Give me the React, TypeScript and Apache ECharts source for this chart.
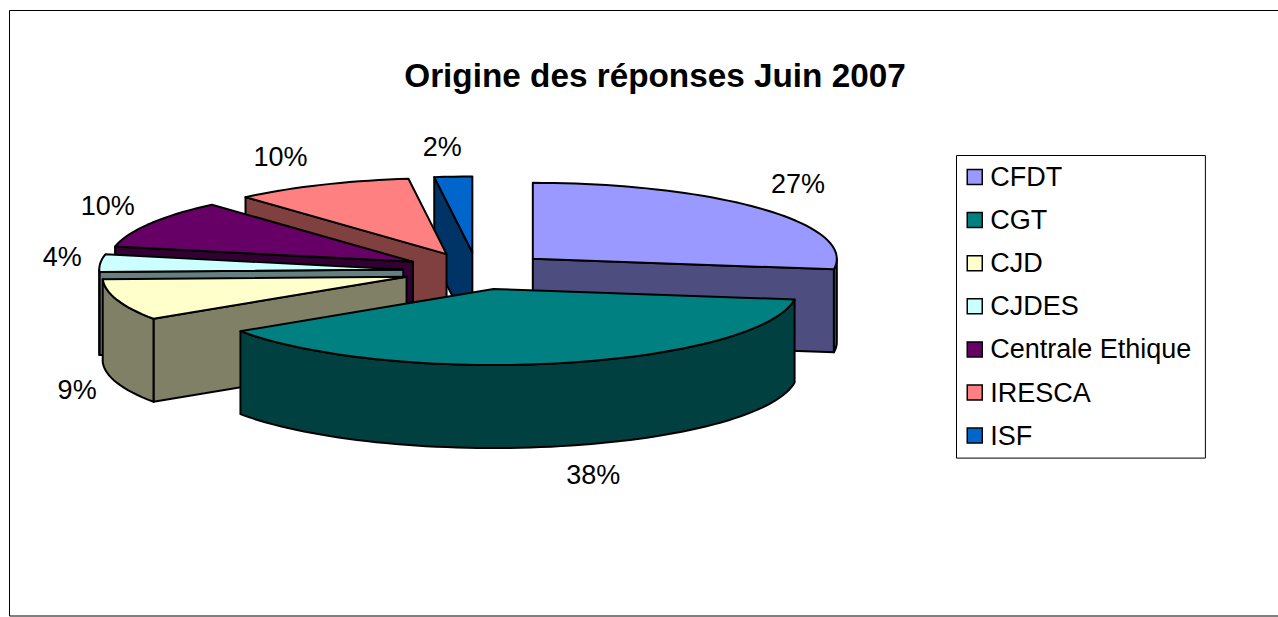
import React, { useEffect, useRef } from "react";
import * as echarts from "echarts";

const categories = ["CFDT", "CGT", "CJD", "CJDES", "Centrale Ethique", "IRESCA", "ISF"];
const shares = [27.2, 38.45, 8.8, 3.75, 10.3, 9.5, 2.0];
const topColors = ["#9999FF", "#008080", "#FFFFCC", "#CCFFFF", "#660066", "#FF8080", "#0066CC"];
const wallColors = ["#4D4D80", "#004040", "#808066", "#668080", "#330033", "#804040", "#003366"];
const paintOrder = [6, 5, 4, 3, 2, 0, 1];
const labelOffsets = [
  [36, -25],
  [32, 112],
  [-40, 90],
  [-38, -6],
  [-42, -18],
  [-41, -28],
  [-11, -29.5],
];

const CX = 477;
const CY = 271;
const RX = 304;
const RY = 76;
const DEPTH = 83;
const EXPLODE = 74;
const STROKE = 2;
const FONT = '"Liberation Sans", Arial, sans-serif';

const total = shares.reduce((a, b) => a + b, 0);
const rad = (d: number) => (d * Math.PI) / 180;

function arcPoints(ax: number, ay: number, from: number, to: number, dy = 0) {
  const pts: number[][] = [];
  const steps = Math.max(2, Math.ceil(Math.abs(to - from) / 2));
  for (let i = 0; i <= steps; i++) {
    const t = rad(from + ((to - from) * i) / steps);
    pts.push([ax + RX * Math.sin(t), ay - RY * Math.cos(t) + dy]);
  }
  return pts;
}

function sliceRenderer(index: number) {
  return () => {
    const before = shares.slice(0, index).reduce((a, b) => a + b, 0);
    const a = (before / total) * 360;
    const b = ((before + shares[index]) / total) * 360;
    const m = rad((a + b) / 2);
    const ax = CX + EXPLODE * Math.sin(m);
    const ay = CY - (EXPLODE * RY * Math.cos(m)) / RX;
    const children: any[] = [];
    const wallStyle = { fill: wallColors[index], stroke: "#000", lineWidth: STROKE, lineJoin: "round" };

    const face = (angle: number) => {
      const [p] = arcPoints(ax, ay, angle, angle);
      children.push({
        type: "polygon",
        shape: { points: [[ax, ay], p, [p[0], p[1] + DEPTH], [ax, ay + DEPTH]] },
        style: wallStyle,
      });
    };
    if (Math.sin(rad(a)) < -1e-6) face(a);
    if (Math.sin(rad(b)) > 1e-6) face(b);

    const wallFrom = Math.max(a, 90);
    const wallTo = Math.min(b, 270);
    if (wallTo > wallFrom) {
      const upper = arcPoints(ax, ay, wallFrom, wallTo);
      const lower = arcPoints(ax, ay, wallTo, wallFrom, DEPTH);
      children.push({
        type: "polygon",
        shape: { points: [...upper, ...lower] },
        style: wallStyle,
      });
    }

    children.push({
      type: "polygon",
      shape: { points: [[ax, ay], ...arcPoints(ax, ay, a, b)] },
      style: { fill: topColors[index], stroke: "#000", lineWidth: STROKE, lineJoin: "round" },
    });

    const [mid] = arcPoints(ax, ay, (a + b) / 2, (a + b) / 2);
    children.push({
      type: "text",
      style: {
        text: `${Math.round((shares[index] / total) * 100)}%`,
        x: mid[0] + labelOffsets[index][0],
        y: mid[1] + labelOffsets[index][1],
        fill: "#000",
        font: `27px ${FONT}`,
        align: "center",
        verticalAlign: "middle",
      },
    });
    return { type: "group", children };
  };
}

export default function App() {
  const ref = useRef<HTMLDivElement>(null);
  useEffect(() => {
    const chart = echarts.init(ref.current!, undefined, { renderer: "svg" });
    chart.setOption({
      animation: false,
      backgroundColor: "#fff",
      title: {
        text: "Origine des réponses Juin 2007",
        left: 655,
        top: 59,
        textAlign: "center",
        padding: 0,
        textStyle: { fontFamily: FONT, fontWeight: "bold", fontSize: 33.3, color: "#000" },
      },
      legend: {
        orient: "vertical",
        left: 956.5,
        top: 155.5,
        padding: [8, 14, 9, 10],
        data: categories,
        icon: "rect",
        itemWidth: 15,
        itemHeight: 15,
        itemGap: 16.1,
        selectedMode: false,
        backgroundColor: "#fff",
        borderColor: "#000",
        borderWidth: 1,
        itemStyle: { borderColor: "#000", borderWidth: 1.5 },
        textStyle: { fontFamily: FONT, fontSize: 27, color: "#000", padding: [0, 0, 0, 3], lineHeight: 25 },
      },
      graphic: [
        {
          type: "polyline",
          shape: { points: [[1278, 10.5], [9.5, 10.5], [9.5, 616], [1278, 616]] },
          style: { fill: "none", stroke: "#000", lineWidth: 1 },
          silent: true,
        },
      ],
      series: paintOrder.map((i) => ({
        type: "custom",
        name: categories[i],
        coordinateSystem: "none",
        silent: true,
        itemStyle: { color: topColors[i] },
        data: [shares[i]],
        renderItem: sliceRenderer(i),
      })),
    });
    return () => chart.dispose();
  }, []);
  return <div ref={ref} style={{ position: "fixed", left: 0, top: 0, width: 1278, height: 617 }} />;
}
